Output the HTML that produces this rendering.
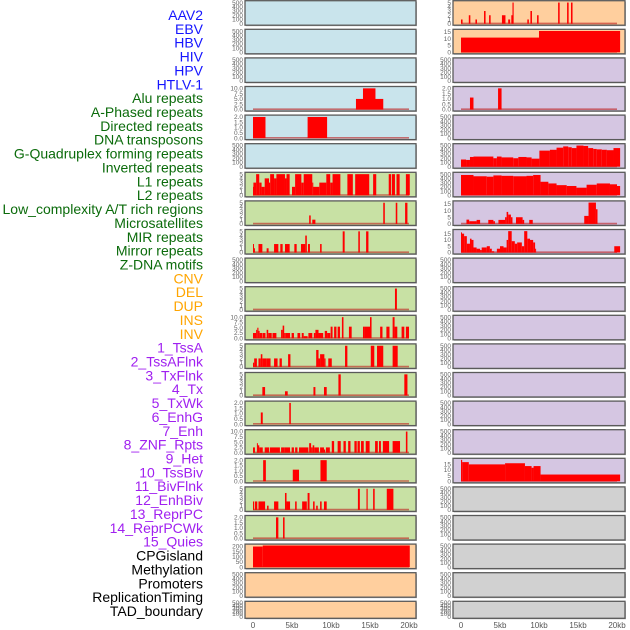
<!DOCTYPE html>
<html><head><meta charset="utf-8"><style>
html,body{margin:0;padding:0;background:#fff;width:630px;height:630px;overflow:hidden}
svg{display:block}
.lbl{font-family:"Liberation Sans",sans-serif;font-size:14px}
.tk{font-family:"Liberation Sans",sans-serif;font-size:6.5px;fill:#666}
.xt{font-family:"Liberation Sans",sans-serif;font-size:8px;fill:#555}
</style></head><body>
<svg id="chart" width="630" height="630" viewBox="0 0 630 630"></svg>
<script>
const labels = ["AAV2","EBV","HBV","HIV","HPV","HTLV-1","Alu repeats","A-Phased repeats","Directed repeats","DNA transposons","G-Quadruplex forming repeats","Inverted repeats","L1 repeats","L2 repeats","Low_complexity A/T rich regions","Microsatellites","MIR repeats","Mirror repeats","Z-DNA motifs","CNV","DEL","DUP","INS","INV","1_TssA","2_TssAFlnk","3_TxFlnk","4_Tx","5_TxWk","6_EnhG","7_Enh","8_ZNF_Rpts","9_Het","10_TssBiv","11_BivFlnk","12_EnhBiv","13_ReprPC","14_ReprPCWk","15_Quies","CPGisland","Methylation","Promoters","ReplicationTiming","TAD_boundary"];
const labelColors = ["#1515ff","#1515ff","#1515ff","#1515ff","#1515ff","#1515ff","#0b6b0b","#0b6b0b","#0b6b0b","#0b6b0b","#0b6b0b","#0b6b0b","#0b6b0b","#0b6b0b","#0b6b0b","#0b6b0b","#0b6b0b","#0b6b0b","#0b6b0b","#ffa500","#ffa500","#ffa500","#ffa500","#ffa500","#a020f0","#a020f0","#a020f0","#a020f0","#a020f0","#a020f0","#a020f0","#a020f0","#a020f0","#a020f0","#a020f0","#a020f0","#a020f0","#a020f0","#a020f0","#000","#000","#000","#000","#000"];
const xTickValues = [0,5,10,15,20];
const xTickLabels = ["0","5kb","10kb","15kb","20kb"];
const ticks500 = [0,100,200,300,400,500];
const ticks5 = [0,1,2,3,4,5];
const ticks10 = [0,2.5,5,7.5,10];
const ticks2 = [0,0.5,1,1.5,2];
const ticks15 = [0,5,10,15];
const ticks200 = [0,50,100,150,200];
// segments: [start kb, end kb, value]
const aluL = [[13.2,16.7,5],[14.1,15.7,10]];
const directedL = [[0,1.6,2],[7.0,9.5,2]];
const invertedL = [[0,0.05,2],[0.05,0.4,3],[0.4,0.8,5],[0.8,1.1,3],[1.1,1.5,2],[1.5,2.05,4],[2.05,2.2,3],[2.2,2.7,5],[2.7,3.0,4],[3.0,4.1,5],[4.1,4.3,4],[4.3,4.7,5],[5.0,5.4,2],[5.4,6.2,5],[6.2,6.5,3],[6.5,7.6,5],[7.6,7.7,3],[7.7,8.5,2],[8.5,9.4,3],[9.4,9.9,5],[9.9,10.2,3],[10.2,11.2,5],[12.1,12.8,5],[13.1,14.9,5],[15.4,15.8,5],[17.4,17.7,5],[17.8,18.2,5],[18.4,18.8,5],[19.6,20.1,5]];
const l2L = [[7.2,7.4,2],[7.6,8.0,1],[16.7,16.9,5],[18.3,18.5,5],[19.5,19.8,5]];
const lowCompL = [[0,0.05,2],[0.05,0.25,1],[0.7,1.2,2],[1.75,2.0,1],[2.7,3.25,2],[3.5,3.8,2],[4.1,4.7,2],[5.3,5.6,2],[6.15,6.7,2],[6.7,6.9,4],[7.05,7.3,2],[8.6,8.8,2],[11.5,11.75,5],[13.5,13.7,5],[14.5,14.8,5]];
const mirL = [[18.2,18.45,5]];
const mirrorL = [[0,0.4,2.5],[0.4,0.55,4],[0.55,0.7,5],[0.7,0.85,3.5],[0.85,1.2,2.5],[1.25,1.6,2.5],[1.75,1.95,4],[1.95,2.4,2.5],[2.5,3.0,2.5],[3.6,3.8,4],[3.8,4.0,6],[4.0,4.2,2.5],[4.2,4.75,2.5],[4.95,5.25,2.5],[5.7,6.05,2.5],[6.25,6.5,2.5],[6.5,7.0,1],[7.1,7.6,2.5],[7.8,8.0,2.5],[8.0,8.4,4],[8.4,9.0,2.5],[9.2,9.5,3.5],[9.5,9.9,2.5],[9.95,10.2,5.5],[10.4,10.7,5.5],[10.85,11.15,5.5],[11.4,11.6,10],[12.3,12.65,5.5],[14.1,14.35,5.5],[14.35,15.0,5.5],[15.0,15.2,10],[16.3,16.6,5.5],[17.1,17.5,5.5],[17.9,18.15,10],[18.15,18.5,5.5],[19.05,19.4,5.5],[19.6,20.0,5.5]];
const zdnaL = [[0,0.15,1],[0.15,0.5,2],[0.7,1.0,2],[1.0,1.2,3],[1.2,1.75,2],[1.75,2.25,2],[2.7,3.15,2],[3.4,3.7,2],[4.5,4.8,3],[8.1,8.4,4],[8.4,8.6,2],[8.6,9.15,3],[9.15,9.3,2],[9.65,10.1,2],[11.8,12.1,5],[15.1,15.55,5],[15.9,16.7,5],[17.9,18.55,5]];
const cnvL = [[1.2,1.55,2],[4.1,4.45,1],[7.75,8.0,2],[9.1,9.45,2],[10.95,11.25,5],[19.4,19.8,5]];
const delL = [[1.0,1.25,1.1],[4.65,4.85,2]];
const dupL = [[0,0.25,2.5],[0.5,0.6,4.5],[0.6,0.8,3.5],[0.8,1.25,2.5],[1.5,2.05,2.5],[2.15,3.45,2.5],[3.6,4.0,2.5],[4.0,4.75,2.5],[4.95,5.25,2.5],[5.4,5.7,2.5],[5.9,7.1,2.5],[7.2,7.45,4.5],[7.45,7.65,2.5],[7.65,7.85,3.5],[7.85,8.45,2.5],[8.6,9.1,2.5],[9.1,9.25,1.5],[9.35,9.85,2.5],[10.1,10.4,5.5],[10.85,11.25,5.5],[11.6,11.9,5.5],[12.2,12.5,5.5],[13.0,13.3,5.5],[13.4,13.7,5.5],[13.85,14.2,5.5],[14.45,14.95,5.5],[15.65,16.0,5.5],[16.15,16.4,5.5],[16.65,17.45,5.5],[17.9,18.85,5.5],[19.6,19.8,10]];
const insL = [[1.3,1.65,2],[5.1,5.9,1.1],[8.65,9.45,2]];
const invL = [[0,0.15,2],[0.25,0.55,2],[0.7,1.55,2],[1.8,2.0,1],[2.7,3.25,2],[4.1,4.3,4],[4.3,4.75,2],[5.4,5.6,2],[6.3,6.9,2],[7.0,7.25,4],[7.7,7.9,2],[8.1,8.3,1],[8.6,8.8,2],[9.1,9.45,2],[13.45,13.7,5],[14.55,14.7,5],[15.4,15.6,5],[17.15,18.0,5]];
const tssaL = [[2.95,3.25,2],[3.85,4.05,2]];
const cpgL = [[0,1.25,200],[1.25,20.1,210]];
const aav2R = [[0,0.2,1],[1.0,1.2,2],[1.85,2.05,1],[2.95,3.15,3],[3.6,3.8,2],[5.25,5.7,2],[6.05,6.3,1],[6.45,6.7,2],[6.6,6.75,5],[8.5,8.7,1],[8.9,9.1,3],[9.75,9.95,2],[12.45,12.65,5],[13.6,13.8,5],[14.1,14.3,5]];
const ebvR = [[0,10,10.7],[10,20.4,15.5]];
const hivR = [[1.15,1.6,1.13],[4.75,5.2,2]];
const gquadR = [[0,0.65,170],[0.65,1.15,160],[1.15,1.6,230],[1.6,4.15,240],[4.15,4.6,200],[4.6,5.2,240],[5.2,6.7,220],[6.7,7.35,200],[7.35,8.4,230],[8.4,9.05,220],[9.05,10.05,190],[10.05,11.4,380],[11.4,12.25,400],[12.25,13.1,450],[13.1,13.75,480],[13.75,14.2,460],[14.2,14.8,440],[14.8,15.7,500],[15.7,16.3,490],[16.3,16.95,440],[16.95,17.4,420],[17.4,18.05,410],[18.05,18.7,400],[18.7,19.55,390],[19.55,20.4,440]];
const invertedR = [[0,1.6,480],[1.6,3.3,450],[3.3,4.15,440],[4.15,5.2,470],[5.2,6.7,460],[6.7,8.4,450],[8.4,9.25,460],[9.25,10.2,480],[10.2,11.2,320],[11.2,12.25,280],[12.25,13.55,240],[13.55,14.8,220],[14.8,16.1,180],[16.1,17.4,250],[17.4,19.1,280],[19.1,20.0,260],[20.0,20.4,220]];
const lowCompR = [[0.7,1.05,3.2],[1.05,2.0,2],[2.0,2.45,3],[3.5,4.15,3],[4.15,4.35,2],[4.8,5.65,3],[5.65,5.85,5],[5.85,6.05,9],[6.05,6.4,7],[6.4,6.6,5],[7.05,7.9,5],[7.9,8.1,3],[8.75,9.2,3],[15.8,16.35,6],[16.35,17.3,16],[17.3,17.5,11]];
const microR = [[0,0.1,16],[0.1,0.4,15],[0.4,0.75,13],[0.75,1.15,7],[1.15,1.35,11],[1.35,1.6,10],[1.6,2.0,4],[2.0,2.45,3],[2.45,2.65,2],[2.65,3.3,4],[3.3,3.7,5],[3.7,3.95,3],[3.95,4.25,1],[4.6,5.0,3],[5.0,5.45,5],[5.45,5.85,4],[5.85,6.05,10],[6.05,6.5,17],[6.5,6.9,9],[6.9,7.2,7],[7.2,7.8,8],[7.8,8.1,5],[8.1,8.5,17],[8.5,8.85,11],[8.85,9.25,10],[9.25,9.5,8],[9.5,9.6,3],[19.65,20.4,5]];
const hetR = [[0,0.15,19],[0.15,1.0,17],[1.0,5.65,15],[5.65,8.2,16],[8.2,9.05,13.5],[9.05,9.3,12],[9.3,10.2,13.5],[10.2,20.4,6]];

const BLUE="#c9e4ec", GREEN="#c8e1a4", ORANGE="#ffcf9e", PURPLE="#d5c6e2", GRAY="#d1d1d1";
const panels = [];
function P(col,row,bg,ticks,ymax,data,name){panels.push({col,row,bg,ticks,ymax,data,name});}
const leftBg=[BLUE,BLUE,BLUE,BLUE,BLUE,BLUE,GREEN,GREEN,GREEN,GREEN,GREEN,GREEN,GREEN,GREEN,GREEN,GREEN,GREEN,GREEN,GREEN,ORANGE,ORANGE,ORANGE];
const leftData=[null,null,null,aluL,directedL,null,invertedL,l2L,lowCompL,null,mirL,mirrorL,zdnaL,cnvL,delL,dupL,insL,invL,tssaL,cpgL,null,null];
const leftTicks=[ticks500,ticks500,ticks500,ticks10,ticks2,ticks500,ticks5,ticks5,ticks5,ticks500,ticks5,ticks10,ticks5,ticks5,ticks2,ticks10,ticks2,ticks5,ticks2,ticks200,ticks500,ticks500];
const leftMax=[520,520,520,10.4,2.08,520,5.2,5.2,5.2,520,5.2,10.4,5.2,5.2,2.08,10.4,2.08,5.2,2.08,214,520,520];
const rightBg=[ORANGE,ORANGE,PURPLE,PURPLE,PURPLE,PURPLE,PURPLE,PURPLE,PURPLE,PURPLE,PURPLE,PURPLE,PURPLE,PURPLE,PURPLE,PURPLE,PURPLE,GRAY,GRAY,GRAY,GRAY,GRAY];
const rightData=[aav2R,ebvR,null,hivR,null,gquadR,invertedR,lowCompR,microR,null,null,null,null,null,null,null,hetR,null,null,null,null,null];
const rightTicks=[ticks5,ticks15,ticks500,ticks2,ticks500,ticks500,ticks500,ticks15,ticks15,ticks500,ticks500,ticks500,ticks500,ticks500,ticks500,ticks500,ticks15,ticks500,ticks500,ticks500,ticks500,ticks500];
const rightMax=[5.2,16,520,2.08,520,520,520,16.5,17.5,520,520,520,520,520,520,520,19.5,520,520,520,520,520];
for(let i=0;i<22;i++){P(0,i,leftBg[i],leftTicks[i],leftMax[i],leftData[i],labels[i]);P(1,i,rightBg[i],rightTicks[i],rightMax[i],rightData[i],labels[i+22]);}

const NS="http://www.w3.org/2000/svg";
const svg=document.getElementById('chart');
function mk(tag,attrs,parent){const e=document.createElementNS(NS,tag);for(const k in attrs)e.setAttribute(k,attrs[k]);(parent||svg).appendChild(e);return e;}
const colX=[245,453], colW=[171,172];
function xScale(col,kb){return colX[col]+8+kb*7.8;}

// labels
labels.forEach((t,i)=>{
  const e=mk('text',{x:203,y:20+i*13.86,'text-anchor':'end',class:'lbl',fill:labelColors[i]});
  
  
  e.textContent=t;
});

panels.forEach(p=>{
  const top=0.7+p.row*28.6, h=p.row===21?17:24.5, left=colX[p.col], w=colW[p.col];
  const g=mk('g',{});
  
  
  mk('rect',{x:left+1,y:top+1,width:w,height:h,fill:'#bbb'},g);
  mk('rect',{x:left,y:top,width:w,height:h,fill:p.bg,stroke:'#5a5a5a','stroke-width':1.3},g);
  const bottom=top+h-1.5, span=h-2.5;
  const yS=v=>bottom-v/p.ymax*span;
  p.ticks.forEach(t=>{
    const e=mk('text',{x:left-2,y:yS(t)+2.2,'text-anchor':'end',class:'tk'},g);
    
    
    e.textContent=String(t%1?t.toFixed(1):(p.ticks===ticks10||p.ticks===ticks2?t.toFixed(1):t));
  });
  if(p.data){
    mk('line',{x1:xScale(p.col,0),x2:xScale(p.col,20),y1:bottom-0.3,y2:bottom-0.3,stroke:'rgba(190,30,30,0.6)','stroke-width':1.6},g);
    p.data.forEach(s=>{
      const x1=xScale(p.col,s[0]), x2=xScale(p.col,s[1]), y=yS(Math.min(s[2],p.ymax));
      const r=mk('rect',{x:x1,y:y,width:Math.max(x2-x1,1),height:bottom-y,fill:'#ff0000'},g);
      
      
    });
  }
});

[0,1].forEach(col=>{
  xTickValues.forEach((v,i)=>{
    const e=mk('text',{x:xScale(col,v),y:628,'text-anchor':'middle',class:'xt'});
    
    
    e.textContent=xTickLabels[i];
  });
});
</script>
</body></html>
